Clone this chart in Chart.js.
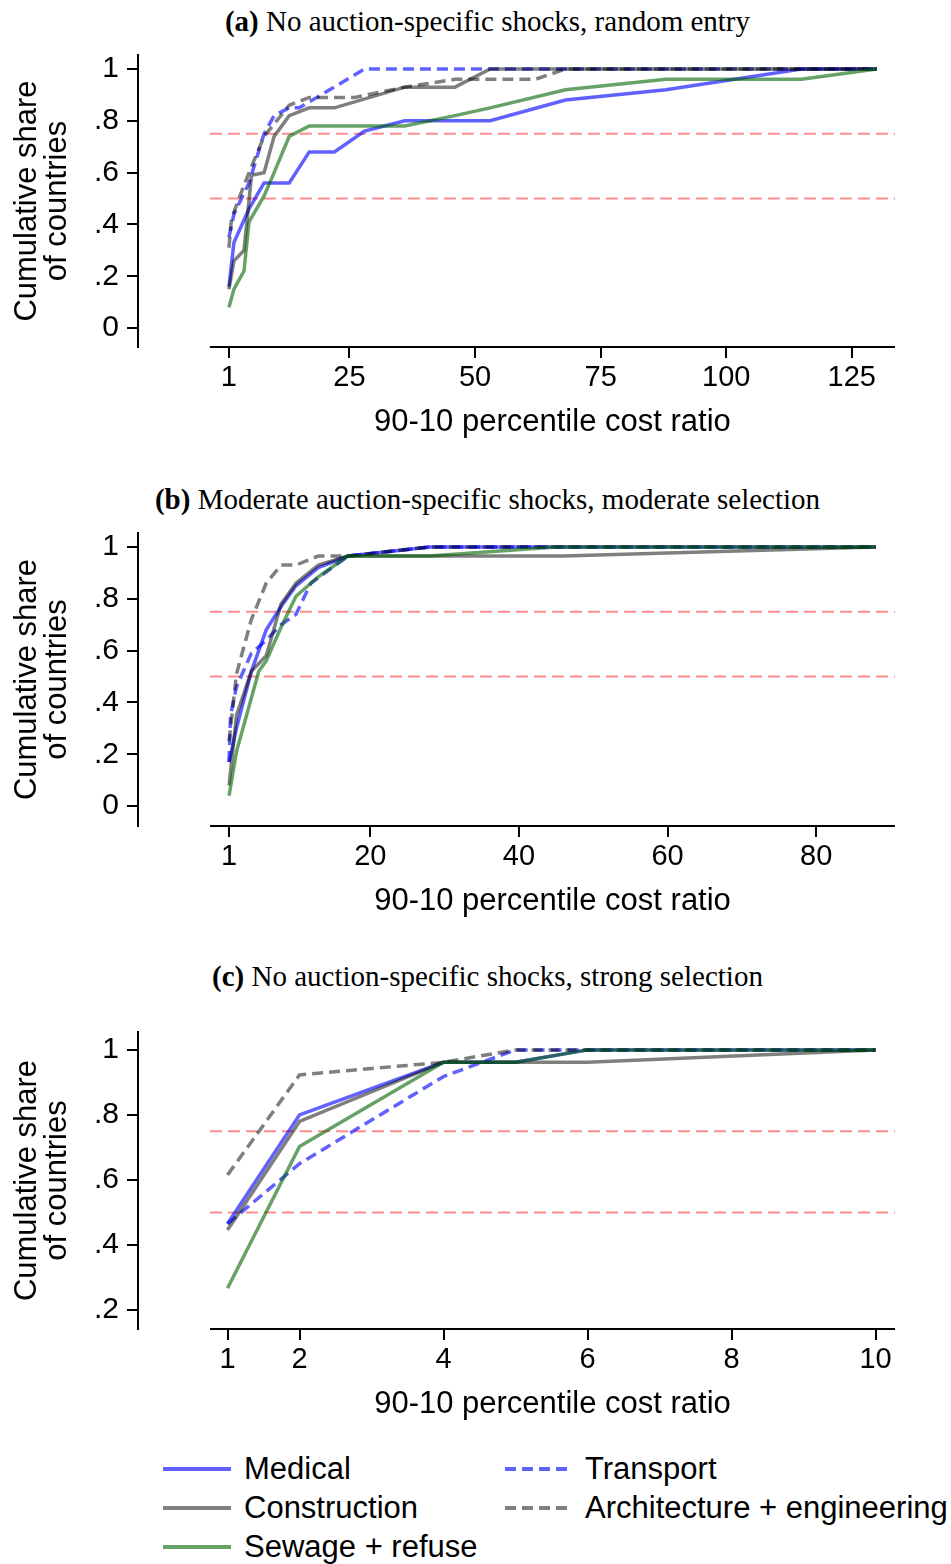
<!DOCTYPE html>
<html>
<head>
<meta charset="utf-8">
<script src="https://cdn.jsdelivr.net/npm/chart.js@4"></script>
<style>
  body { margin: 0; background: #fff; width: 951px; height: 1564px; position: relative; overflow: hidden; }
  .panel-title { position: absolute; left: 0; width: 975px; text-align: center; font-family: "Liberation Serif", serif; font-size: 29px; line-height: 34px; color: #000; white-space: nowrap; }
  .box { position: absolute; left: 0; width: 951px; }
  .leg { position: absolute; font-family: "Liberation Sans", Arial, sans-serif; font-size: 31px; line-height: 36px; color: #000; white-space: nowrap; }
  #legend svg { position: absolute; }
</style>
</head>
<body>
<div class="panel-title" style="top:4px"><b>(a)</b> No auction-specific shocks, random entry</div>
<div class="panel-title" style="top:482px"><b>(b)</b> Moderate auction-specific shocks, moderate selection</div>
<div class="panel-title" style="top:959px"><b>(c)</b> No auction-specific shocks, strong selection</div>

<div class="box" style="top:25px;height:427px"><canvas id="chart-a"></canvas></div>
<div class="box" style="top:503px;height:428px"><canvas id="chart-b"></canvas></div>
<div class="box" style="top:1002px;height:432px"><canvas id="chart-c"></canvas></div>
<div id="legend"></div>

<script>
// ! series (same order in all panels)
const seriesNames = ['Medical', 'Transport', 'Construction', 'Architecture + engineering', 'Sewage + refuse'];
const refLevels = [0.5, 0.75];
const xTitle = '90-10 percentile cost ratio';
const yTitle = ['Cumulative share', 'of countries'];

// ! panel (a)
const xTicksA = [1, 25, 50, 75, 100, 125];
const yTicksA = [0, 0.2, 0.4, 0.6, 0.8, 1];
const medicalXA = [1, 2, 5, 8, 13, 17, 22, 28, 36, 53, 68, 88, 115, 130];
const medicalYA = [0.16, 0.33, 0.46, 0.56, 0.56, 0.68, 0.68, 0.76, 0.80, 0.80, 0.88, 0.92, 1, 1];
const transportXA = [1, 2, 5, 8, 10, 13, 15, 28, 130];
const transportYA = [0.35, 0.44, 0.56, 0.75, 0.82, 0.85, 0.85, 1, 1];
const constructionXA = [1, 2, 4, 5.5, 8, 10, 13, 17, 22, 36, 46, 53, 130];
const constructionYA = [0.15, 0.26, 0.30, 0.59, 0.60, 0.74, 0.82, 0.85, 0.85, 0.93, 0.93, 1, 1];
const architectureXA = [1, 1.5, 3, 5, 8, 13, 17, 26, 36, 46, 62, 68, 130];
const architectureYA = [0.31, 0.42, 0.50, 0.60, 0.74, 0.86, 0.89, 0.89, 0.93, 0.96, 0.96, 1, 1];
const sewageXA = [1, 2, 4, 5, 8, 10, 13, 17, 36, 46, 53, 68, 88, 115, 130];
const sewageYA = [0.08, 0.15, 0.22, 0.41, 0.51, 0.60, 0.74, 0.78, 0.78, 0.82, 0.85, 0.92, 0.96, 0.96, 1];

// ! panel (b)
const xTicksB = [1, 20, 40, 60, 80];
const yTicksB = [0, 0.2, 0.4, 0.6, 0.8, 1];
const medicalXB = [1, 2, 4, 6, 8, 10, 13, 17, 28, 88];
const medicalYB = [0.17, 0.30, 0.52, 0.68, 0.77, 0.85, 0.92, 0.965, 1, 1];
const transportXB = [1, 1.2, 2, 4, 6, 8, 10, 12, 17, 28, 88];
const transportYB = [0.17, 0.35, 0.46, 0.59, 0.64, 0.70, 0.74, 0.86, 0.965, 1, 1];
const constructionXB = [1, 2, 4, 6, 8, 10, 13, 17, 46, 88];
const constructionYB = [0.08, 0.35, 0.52, 0.58, 0.78, 0.86, 0.93, 0.965, 0.965, 1];
const architectureXB = [1, 2, 4, 6, 8, 10, 13, 17, 28, 88];
const architectureYB = [0.25, 0.51, 0.72, 0.86, 0.93, 0.93, 0.965, 0.965, 1, 1];
const sewageXB = [1, 2, 5, 6, 8, 10, 13, 17, 28, 45, 88];
const sewageYB = [0.04, 0.21, 0.52, 0.56, 0.69, 0.81, 0.885, 0.965, 0.965, 1, 1];

// ! panel (c)
const xTicksC = [1, 2, 4, 6, 8, 10];
const yTicksC = [0.2, 0.4, 0.6, 0.8, 1];
const medicalXC = [1, 2, 4, 5, 6, 10];
const medicalYC = [0.465, 0.80, 0.962, 0.962, 1, 1];
const transportXC = [1, 2, 4, 5, 6, 10];
const transportYC = [0.465, 0.65, 0.918, 1, 1, 1];
const constructionXC = [1, 2, 4, 5, 6, 10];
const constructionYC = [0.446, 0.78, 0.962, 0.962, 0.962, 1];
const architectureXC = [1, 2, 4, 5, 6, 10];
const architectureYC = [0.615, 0.923, 0.962, 1, 1, 1];
const sewageXC = [1, 2, 4, 5, 6, 10];
const sewageYC = [0.267, 0.703, 0.962, 0.962, 1, 1];

// styles
const blue = 'rgba(0,0,255,0.62)';
const gray = 'rgba(0,0,0,0.5)';
const green = 'rgba(0,100,0,0.6)';
const lineColors = [blue, blue, gray, gray, green];
const lineDashes = [[], [11, 6], [], [11, 6], []];

Chart.defaults.font.family = '"Liberation Sans", Arial, sans-serif';
Chart.defaults.color = '#000';

function pts(xs, ys) {
  return xs.map((x, i) => ({ x: x, y: ys[i] }));
}

// x axis line starts a bit left of the first tick (Stata style), title centred on it
const stataAxis = {
  id: 'stataAxis',
  afterDraw(chart, args, opts) {
    const ctx = chart.ctx;
    const area = chart.chartArea;
    const left = chart.scales.x.getPixelForValue(opts.xStart);
    ctx.save();
    ctx.strokeStyle = '#000';
    ctx.lineWidth = 2;
    ctx.beginPath();
    ctx.moveTo(left, area.bottom);
    ctx.lineTo(area.right, area.bottom);
    ctx.stroke();
    ctx.fillStyle = '#000';
    ctx.font = '31px "Liberation Sans", Arial, sans-serif';
    ctx.textAlign = 'center';
    ctx.textBaseline = 'middle';
    ctx.fillText(opts.title, (left + area.right) / 2, area.bottom + 75);
    ctx.restore();
  }
};

function makePanel(id, p) {
  var datasets = [];
  for (const lvl of refLevels) {
    datasets.push({
      data: [{ x: p.xStart, y: lvl }, { x: p.xMax, y: lvl }],
      borderColor: 'rgba(255,0,0,0.45)', borderWidth: 2, borderDash: [12, 6],
      pointRadius: 0, showLine: true, order: 10
    });
  }
  p.series.forEach(function (s, i) {
    datasets.push({
      label: seriesNames[i],
      data: pts(s[0], s[1]),
      borderColor: lineColors[i], borderWidth: 3.5, borderDash: lineDashes[i],
      pointRadius: 0, showLine: true, order: 9 - i
    });
  });

  new Chart(id, {
    type: 'scatter',
    data: { datasets: datasets },
    options: {
      responsive: true,
      maintainAspectRatio: false,
      animation: false,
      layout: { padding: { top: 30, right: 56, bottom: 5, left: 0 } },
      plugins: {
        legend: { display: false },
        tooltip: { enabled: false },
        stataAxis: { xStart: p.xStart, title: xTitle }
      },
      scales: {
        x: {
          type: 'linear', min: p.xMin, max: p.xMax,
          afterBuildTicks: function (s) { s.ticks = p.xTicks.map(v => ({ value: v })); },
          afterFit: function (s) { s.height = 100; },
          grid: { drawOnChartArea: false, drawTicks: true, tickLength: 11, color: '#000', lineWidth: 2 },
          border: { display: false },
          ticks: { autoSkip: false, maxRotation: 0, padding: 3, font: { size: 29 } }
        },
        y: {
          type: 'linear', min: p.yMin, max: p.yMax,
          afterBuildTicks: function (s) { s.ticks = p.yTicks.map(v => ({ value: v })); },
          afterFit: function (s) { s.width = 138; },
          grid: { drawOnChartArea: false, drawTicks: true, tickLength: 11, color: '#000', lineWidth: 2 },
          border: { display: true, color: '#000', width: 2 },
          ticks: {
            padding: 8, font: { size: 30 },
            callback: function (v) { return v === 0 ? '0' : v === 1 ? '1' : v.toFixed(1).replace(/^0/, ''); }
          },
          title: { display: true, text: yTitle, font: { size: 31, lineHeight: 0.98 }, padding: { top: 12, bottom: 0 } }
        }
      }
    },
    plugins: [stataAxis]
  });
}

makePanel('chart-a', {
  xMin: -17.1, xMax: 133.6, xStart: -2.8, yMin: -0.073, yMax: 1.054,
  xTicks: xTicksA, yTicks: yTicksA,
  series: [[medicalXA, medicalYA], [transportXA, transportYA], [constructionXA, constructionYA],
           [architectureXA, architectureYA], [sewageXA, sewageYA]]
});
makePanel('chart-b', {
  xMin: -11.25, xMax: 90.6, xStart: -1.56, yMin: -0.077, yMax: 1.054,
  xTicks: xTicksB, yTicks: yTicksB,
  series: [[medicalXB, medicalYB], [transportXB, transportYB], [constructionXB, constructionYB],
           [architectureXB, architectureYB], [sewageXB, sewageYB]]
});
makePanel('chart-c', {
  xMin: -0.243, xMax: 10.27, xStart: 0.757, yMin: 0.1415, yMax: 1.055,
  xTicks: xTicksC, yTicks: yTicksC,
  series: [[medicalXC, medicalYC], [transportXC, transportYC], [constructionXC, constructionYC],
           [architectureXC, architectureYC], [sewageXC, sewageYC]]
});

// ! legend, two columns, row-major
var legend = document.querySelector('#legend');
var html = '';
seriesNames.forEach(function (name, i) {
  var col = i % 2, row = Math.floor(i / 2);
  var lineX = col === 0 ? 163 : 505;
  var textX = col === 0 ? 244 : 585;
  var cy = 1469 + row * 39;
  var dash = lineDashes[i].length ? ' stroke-dasharray="' + lineDashes[i].join(' ') + '"' : '';
  html += '<svg style="left:' + lineX + 'px;top:' + (cy - 3) + 'px" width="68" height="6">' +
          '<line x1="0" y1="3" x2="68" y2="3" stroke="' + lineColors[i] + '" stroke-width="4"' + dash + '/></svg>';
  html += '<div class="leg" style="left:' + textX + 'px;top:' + (cy - 18) + 'px">' + name + '</div>';
});
legend.innerHTML = html;
</script>
</body>
</html>
